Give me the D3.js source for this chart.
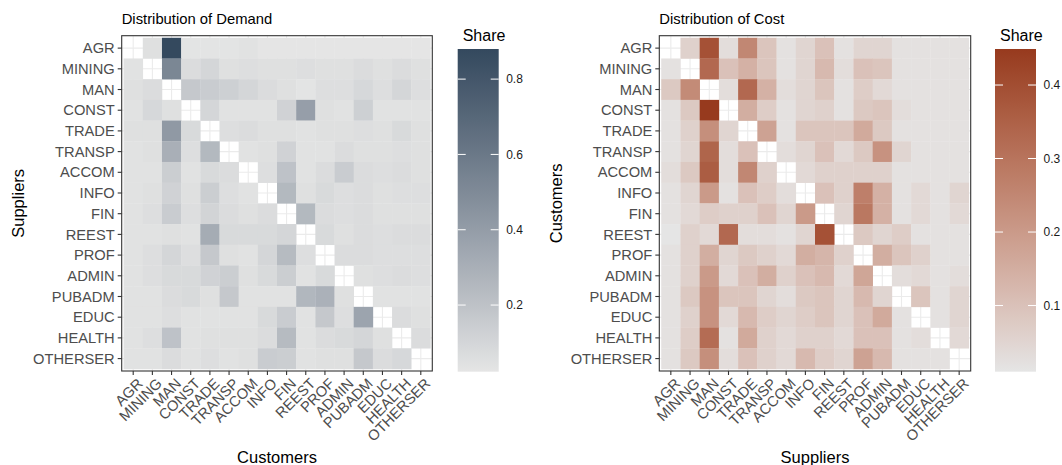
<!DOCTYPE html>
<html>
<head>
<meta charset="utf-8">
<script src="https://cdn.jsdelivr.net/npm/d3@7"></script>
<style>
  html, body { margin: 0; padding: 0; background: #fff; }
  svg { display: block; font-family: "Liberation Sans", Arial, Helvetica, sans-serif; }
</style>
</head>
<body>
<svg id="chart" width="1062" height="465"></svg>
<script>
// Industry sectors, used for both rows and columns of each matrix
const categories = ["AGR", "MINING", "MAN", "CONST", "TRADE", "TRANSP", "ACCOM", "INFO",
  "FIN", "REEST", "PROF", "ADMIN", "PUBADM", "EDUC", "HEALTH", "OTHERSER"];

// Demand shares: rows = suppliers, columns = customers (null on the diagonal)
const demandShares = [
  [null, 0.05, 0.88, 0.03, 0.03, 0.03, 0.04, 0.025, 0.025, 0.025, 0.025, 0.025, 0.025, 0.025, 0.023, 0.025],
  [0.04, null, 0.52, 0.07, 0.10, 0.05, 0.06, 0.05, 0.05, 0.06, 0.05, 0.05, 0.07, 0.05, 0.07, 0.05],
  [0.05, 0.07, null, 0.17, 0.15, 0.13, 0.10, 0.07, 0.05, 0.03, 0.06, 0.06, 0.09, 0.06, 0.10, 0.06],
  [0.04, 0.09, 0.05, null, 0.10, 0.04, 0.04, 0.04, 0.12, 0.39, 0.05, 0.04, 0.13, 0.04, 0.04, 0.04],
  [0.05, 0.05, 0.42, 0.08, null, 0.06, 0.07, 0.05, 0.05, 0.04, 0.05, 0.05, 0.06, 0.05, 0.08, 0.05],
  [0.04, 0.05, 0.30, 0.06, 0.25, null, 0.04, 0.05, 0.12, 0.04, 0.04, 0.07, 0.05, 0.05, 0.06, 0.05],
  [0.04, 0.04, 0.14, 0.04, 0.08, 0.07, null, 0.06, 0.20, 0.04, 0.07, 0.15, 0.07, 0.06, 0.07, 0.05],
  [0.04, 0.05, 0.12, 0.05, 0.14, 0.06, 0.04, null, 0.25, 0.05, 0.08, 0.06, 0.07, 0.05, 0.06, 0.06],
  [0.04, 0.06, 0.15, 0.06, 0.11, 0.07, 0.05, 0.07, null, 0.25, 0.07, 0.06, 0.07, 0.05, 0.05, 0.05],
  [0.04, 0.04, 0.05, 0.04, 0.32, 0.08, 0.08, 0.08, 0.10, null, 0.08, 0.05, 0.07, 0.06, 0.07, 0.07],
  [0.04, 0.06, 0.10, 0.06, 0.17, 0.05, 0.04, 0.10, 0.24, 0.06, null, 0.07, 0.07, 0.06, 0.06, 0.06],
  [0.04, 0.06, 0.08, 0.08, 0.12, 0.14, 0.05, 0.08, 0.14, 0.04, 0.08, null, 0.05, 0.06, 0.07, 0.06],
  [0.04, 0.04, 0.07, 0.08, 0.05, 0.17, 0.04, 0.04, 0.04, 0.26, 0.29, 0.05, null, 0.04, 0.04, 0.04],
  [0.04, 0.04, 0.06, 0.04, 0.04, 0.04, 0.04, 0.08, 0.15, 0.04, 0.17, 0.06, 0.36, null, 0.07, 0.05],
  [0.04, 0.06, 0.20, 0.04, 0.05, 0.05, 0.05, 0.07, 0.24, 0.04, 0.07, 0.08, 0.10, 0.05, null, 0.07],
  [0.04, 0.04, 0.07, 0.04, 0.06, 0.04, 0.05, 0.15, 0.14, 0.04, 0.05, 0.05, 0.17, 0.07, 0.09, null]
];

// Cost shares: rows = customers, columns = suppliers (null on the diagonal)
const costShares = [
  [null, 0.06, 0.39, 0.03, 0.25, 0.09, 0.02, 0.05, 0.10, 0.02, 0.05, 0.05, 0.02, 0.02, 0.02, 0.02],
  [0.02, null, 0.33, 0.10, 0.14, 0.09, 0.02, 0.05, 0.12, 0.03, 0.10, 0.09, 0.02, 0.02, 0.02, 0.02],
  [0.08, 0.24, null, 0.03, 0.33, 0.14, 0.03, 0.05, 0.09, 0.02, 0.07, 0.04, 0.02, 0.02, 0.02, 0.02],
  [0.02, 0.08, 0.449, null, 0.15, 0.07, 0.02, 0.05, 0.06, 0.02, 0.08, 0.09, 0.03, 0.02, 0.02, 0.02],
  [0.02, 0.06, 0.23, 0.05, null, 0.18, 0.02, 0.09, 0.09, 0.09, 0.16, 0.08, 0.02, 0.02, 0.02, 0.02],
  [0.02, 0.05, 0.34, 0.03, 0.10, null, 0.03, 0.05, 0.10, 0.04, 0.08, 0.22, 0.05, 0.02, 0.02, 0.02],
  [0.03, 0.08, 0.36, 0.03, 0.25, 0.06, null, 0.04, 0.06, 0.06, 0.06, 0.06, 0.02, 0.02, 0.02, 0.02],
  [0.02, 0.05, 0.20, 0.02, 0.10, 0.07, 0.03, null, 0.10, 0.06, 0.27, 0.14, 0.02, 0.04, 0.02, 0.05],
  [0.02, 0.04, 0.07, 0.06, 0.06, 0.10, 0.05, 0.20, null, 0.05, 0.29, 0.14, 0.02, 0.04, 0.02, 0.04],
  [0.01, 0.06, 0.04, 0.33, 0.03, 0.03, 0.02, 0.05, 0.39, null, 0.08, 0.05, 0.07, 0.02, 0.02, 0.02],
  [0.02, 0.06, 0.15, 0.05, 0.08, 0.06, 0.04, 0.15, 0.13, 0.06, null, 0.15, 0.09, 0.06, 0.02, 0.02],
  [0.02, 0.06, 0.20, 0.04, 0.10, 0.15, 0.06, 0.10, 0.12, 0.04, 0.17, null, 0.03, 0.04, 0.02, 0.03],
  [0.02, 0.08, 0.22, 0.09, 0.09, 0.05, 0.03, 0.08, 0.09, 0.05, 0.12, 0.05, null, 0.09, 0.02, 0.05],
  [0.02, 0.06, 0.22, 0.04, 0.12, 0.07, 0.05, 0.07, 0.09, 0.05, 0.10, 0.16, 0.02, null, 0.02, 0.05],
  [0.02, 0.07, 0.32, 0.02, 0.16, 0.06, 0.04, 0.06, 0.06, 0.04, 0.10, 0.10, 0.02, 0.03, null, 0.04],
  [0.02, 0.08, 0.23, 0.03, 0.10, 0.06, 0.04, 0.12, 0.07, 0.05, 0.18, 0.12, 0.02, 0.02, 0.02, null]
];

// Colourbar tick labels
const demandLegendTicks = [0.2, 0.4, 0.6, 0.8];
const costLegendTicks = [0.1, 0.2, 0.3, 0.4];

const svg = d3.select("#chart");
const defs = svg.append("defs");

function heatmap(opts) {
  const { matrix, x0, x1, y0, y1, low, high, title, xTitle, yTitle, yTitleX,
          legendX, legendTicks, id } = opts;
  const n = categories.length;
  const unitX = (x1 - x0) / (n + 0.2);
  const unitY = (y1 - y0) / (n + 0.2);

  const x = d3.scaleBand().domain(categories)
    .range([x0 + 0.1 * unitX, x1 - 0.1 * unitX]).padding(0);
  const y = d3.scaleBand().domain(categories)
    .range([y0 + 0.1 * unitY, y1 - 0.1 * unitY]).padding(0);

  const cells = [];
  matrix.forEach((row, i) => row.forEach((v, j) => {
    if (v != null) cells.push({ r: categories[i], c: categories[j], v });
  }));
  const ext = d3.extent(cells, d => d.v);
  const color = d3.scaleLinear().domain(ext).range([low, high]).interpolate(d3.interpolateLab);

  const g = svg.append("g");

  // panel grid (visible where no tile is drawn)
  const grid = g.append("g").attr("stroke", "#ebebeb").attr("stroke-width", 1.1);
  categories.forEach(cat => {
    grid.append("line").attr("x1", x(cat) + x.bandwidth() / 2).attr("x2", x(cat) + x.bandwidth() / 2)
      .attr("y1", y0).attr("y2", y1);
    grid.append("line").attr("y1", y(cat) + y.bandwidth() / 2).attr("y2", y(cat) + y.bandwidth() / 2)
      .attr("x1", x0).attr("x2", x1);
  });

  // tiles
  g.append("g").selectAll("rect").data(cells).join("rect")
    .attr("x", d => x(d.c)).attr("y", d => y(d.r))
    .attr("width", x.bandwidth() + 0.3).attr("height", y.bandwidth() + 0.3)
    .attr("fill", d => color(d.v));

  // panel border
  g.append("rect").attr("x", x0).attr("y", y0).attr("width", x1 - x0).attr("height", y1 - y0)
    .attr("fill", "none").attr("stroke", "#333333").attr("stroke-width", 1.1);

  // axes
  const xAxis = g.append("g").attr("transform", `translate(0,${y1})`)
    .call(d3.axisBottom(x).tickSize(4).tickSizeOuter(0).tickFormat(""));
  const yAxis = g.append("g").attr("transform", `translate(${x0},0)`)
    .call(d3.axisLeft(y).tickSize(4).tickSizeOuter(0).tickFormat(""));
  [xAxis, yAxis].forEach(a => {
    a.select(".domain").remove();
    a.selectAll(".tick line").attr("stroke", "#333333").attr("stroke-width", 1.1);
  });

  // y tick labels
  g.append("g").selectAll("text").data(categories).join("text")
    .attr("x", x0 - 7).attr("y", d => y(d) + y.bandwidth() / 2)
    .attr("dy", "0.35em").attr("text-anchor", "end")
    .attr("font-size", 14.7).attr("fill", "#4d4d4d").text(d => d);

  // x tick labels, rotated 45 degrees
  g.append("g").selectAll("text").data(categories).join("text")
    .attr("transform", d => `translate(${x(d) + x.bandwidth() / 2 + 3},${y1 + 6}) rotate(-45)`)
    .attr("dy", "0.72em").attr("text-anchor", "end")
    .attr("font-size", 14.7).attr("fill", "#4d4d4d").text(d => d);

  // titles
  g.append("text").attr("x", x0).attr("y", 24).attr("font-size", 14.8).attr("fill", "#000").text(title);
  g.append("text").attr("x", (x0 + x1) / 2).attr("y", 462.5).attr("text-anchor", "middle")
    .attr("font-size", 16.5).attr("fill", "#000").text(xTitle);
  g.append("text").attr("transform", `translate(${yTitleX},${(y0 + y1) / 2}) rotate(-90)`)
    .attr("text-anchor", "middle").attr("font-size", 16.5).attr("fill", "#000").text(yTitle);

  // colourbar
  const barTop = 49, barBottom = 371.7, barW = 41;
  const grad = defs.append("linearGradient").attr("id", id)
    .attr("x1", 0).attr("y1", 1).attr("x2", 0).attr("y2", 0);
  d3.range(0, 21).forEach(k => {
    const t = k / 20;
    grad.append("stop").attr("offset", t)
      .attr("stop-color", color(ext[0] + t * (ext[1] - ext[0])));
  });
  const lg = svg.append("g");
  lg.append("text").attr("x", legendX + 5).attr("y", 40.5).attr("font-size", 16).attr("fill", "#000").text("Share");
  lg.append("rect").attr("x", legendX).attr("y", barTop).attr("width", barW).attr("height", barBottom - barTop)
    .attr("fill", `url(#${id})`);
  const ly = d3.scaleLinear().domain(ext).range([barBottom, barTop]);
  legendTicks.forEach(t => {
    const yy = ly(t);
    lg.append("line").attr("x1", legendX).attr("x2", legendX + 8).attr("y1", yy).attr("y2", yy)
      .attr("stroke", "#fff").attr("stroke-width", 1);
    lg.append("line").attr("x1", legendX + barW - 8).attr("x2", legendX + barW).attr("y1", yy).attr("y2", yy)
      .attr("stroke", "#fff").attr("stroke-width", 1);
    lg.append("text").attr("x", legendX + barW + 7.5).attr("y", yy).attr("dy", "0.35em")
      .attr("font-size", 12).attr("fill", "#1a1a1a").text(d3.format(".1f")(t));
  });
}

heatmap({
  matrix: demandShares, x0: 121.7, x1: 432.3, y0: 35.7, y1: 371,
  low: "#e5e5e5", high: "#34495e",
  title: "Distribution of Demand", xTitle: "Customers", yTitle: "Suppliers", yTitleX: 24,
  legendX: 457.7, legendTicks: demandLegendTicks, id: "gradDemand"
});

heatmap({
  matrix: costShares, x0: 659.3, x1: 970.7, y0: 35.7, y1: 371,
  low: "#e5e5e5", high: "#973a1e",
  title: "Distribution of Cost", xTitle: "Suppliers", yTitle: "Customers", yTitleX: 562,
  legendX: 995, legendTicks: costLegendTicks, id: "gradCost"
});
</script>
</body>
</html>
